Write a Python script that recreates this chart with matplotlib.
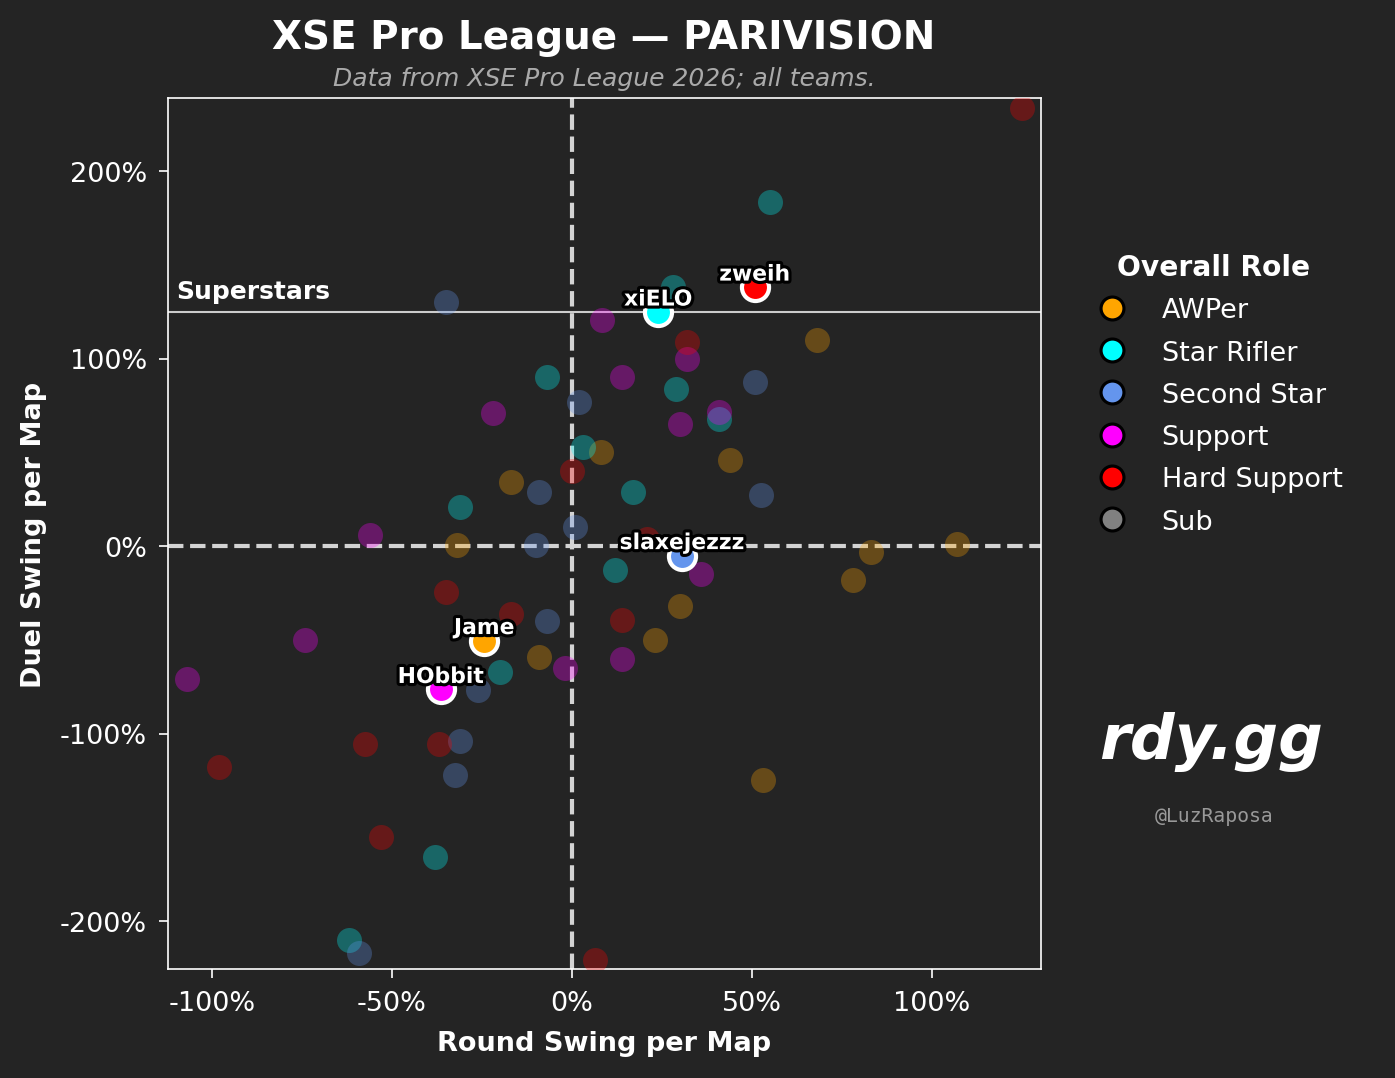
import matplotlib
matplotlib.use("Agg")
import matplotlib.pyplot as plt
import matplotlib.patheffects as pe
import matplotlib.transforms as mtransforms
from matplotlib.lines import Line2D
from matplotlib.ticker import FuncFormatter, MultipleLocator

BG = "#242424"

ROLES = ["AWPer", "Star Rifler", "Second Star", "Support", "Hard Support", "Sub"]
ROLE_COLORS = ["#FFA500", "#00FFFF", "#6495ED", "#FF00FF", "#FF0000", "#808080"]

# round swing / duel swing per map, in %
awp_x = [68, 8, 44, -17, -32, 107, 83, 78, 30, 23, -9, 53, -24.3]
awp_y = [110, 50, 46, 34, 0.5, 1, -3, -18, -32, -50, -59, -125, -50.4]
star_x = [55, 28, -7, 29, 41, 3, 17, -31, 12, -20, -38, -62, 24.0]
star_y = [183.5, 138, 90, 84, 68, 53, 29, 21, -13, -67, -166, -210, 124.8]
second_x = [-35, 51, 2, -9, 52.5, -10, 1, -7, -26, -31, -32.5, -59, 30.6]
second_y = [130, 87.5, 77, 29, 27, 0.5, 10, -40, -77, -104, -122, -217, -5.1]
support_x = [8.5, 32, 14, -22, 41, 30, -56, 36, 14, -2, -74, -107, -36.4]
support_y = [120.5, 100, 90, 71, 71.5, 65, 6, -15, -60, -65, -50, -71, -76.5]
hard_x = [125, 32, 0, 21, 14, -17, -35, -57.5, -37, -98, -53, 6.5, 50.8]
hard_y = [233.5, 109, 40, 4, -39.5, -36, -24.5, -105.5, -105.5, -118, -155, -221, 138.1]

# PARIVISION players
HL_NAMES = ["zweih", "xiELO", "slaxejezzz", "Jame", "HObbit"]
HL_ROLES = ["Hard Support", "Star Rifler", "Second Star", "AWPer", "Support"]
HL_X = [50.8, 24.0, 30.6, -24.3, -36.4]
HL_Y = [138.1, 124.8, -5.1, -50.4, -76.5]

SUPERSTAR = 125

fig = plt.figure(figsize=(9.3, 7.193), dpi=150, facecolor=BG)
ax = fig.add_axes([0.1204, 0.101, 0.6258, 0.8072])
ax.set_facecolor(BG)

series = [(awp_x, awp_y), (star_x, star_y), (second_x, second_y),
          (support_x, support_y), (hard_x, hard_y)]
for (xs, ys), c in zip(series, ROLE_COLORS):
    ax.scatter(xs, ys, s=144, color=c, alpha=0.3, linewidths=0, zorder=3)

for name, role, x, y in zip(HL_NAMES, HL_ROLES, HL_X, HL_Y):
    c = ROLE_COLORS[ROLES.index(role)]
    ax.scatter([x], [y], s=169, color=c, edgecolors="white", linewidths=2, zorder=5)
    ax.annotate(name, (x, y), xytext=(0, 6), textcoords="offset points",
                ha="center", va="center", fontsize=10.5, fontweight="bold",
                color="white", zorder=6,
                path_effects=[pe.withStroke(linewidth=3, foreground="black")])

ax.axvline(0, color="#d3d3d3", lw=2, ls="--", zorder=2)
ax.axhline(0, color="#d3d3d3", lw=2, ls="--", zorder=2)
ax.axhline(SUPERSTAR, color="#cccccc", lw=1, zorder=2)
trans = mtransforms.blended_transform_factory(ax.transAxes, ax.transData)
ax.annotate("Superstars", (0, SUPERSTAR), xycoords=trans, xytext=(4, 4),
            textcoords="offset points", ha="left", va="bottom",
            fontsize=12, fontweight="bold", color="white")

ax.set_xlim(-112.2, 130.3)
ax.set_ylim(-225.6, 238.9)
ax.xaxis.set_major_locator(MultipleLocator(50))
ax.yaxis.set_major_locator(MultipleLocator(100))
pct = FuncFormatter(lambda v, _: f"{v:.0f}%")
ax.xaxis.set_major_formatter(pct)
ax.yaxis.set_major_formatter(pct)
ax.tick_params(colors="white", labelsize=13, length=4.5, pad=5.5)
for s in ax.spines.values():
    s.set_color("white")

ax.set_xlabel("Round Swing per Map", color="white", fontsize=13,
              fontweight="bold", labelpad=7)
ax.set_ylabel("Duel Swing per Map", color="white", fontsize=13,
              fontweight="bold", labelpad=6)

fig.text(0.433, 0.965, "XSE Pro League — PARIVISION", ha="center", va="center",
         fontsize=18.7, fontweight="bold", color="white")
fig.text(0.433, 0.927, "Data from XSE Pro League 2026; all teams.", ha="center",
         va="center", fontsize=12, style="italic", color="#aaaaaa")

handles = [Line2D([], [], marker="o", ls="", markersize=11, markerfacecolor=c,
                  markeredgecolor="black", markeredgewidth=1.5) for c in ROLE_COLORS]
leg = ax.legend(handles, ROLES, title="Overall Role", loc="upper left",
                bbox_to_anchor=(1.022, 0.85), frameon=False, fontsize=13,
                title_fontproperties={"weight": "bold", "size": 13.5},
                handletextpad=0.85, labelspacing=0.6)
for t in leg.get_texts():
    t.set_color("white")
leg.get_title().set_color("white")

fig.text(0.868, 0.312, "rdy.gg", ha="center", va="center", fontsize=30,
         fontweight="heavy", style="italic", color="white")
fig.text(0.870, 0.243, "@LuzRaposa", ha="center", va="center", fontsize=9.5,
         family="DejaVu Sans Mono", color="#999999")

fig.savefig("out.png", dpi=150, facecolor=BG)
